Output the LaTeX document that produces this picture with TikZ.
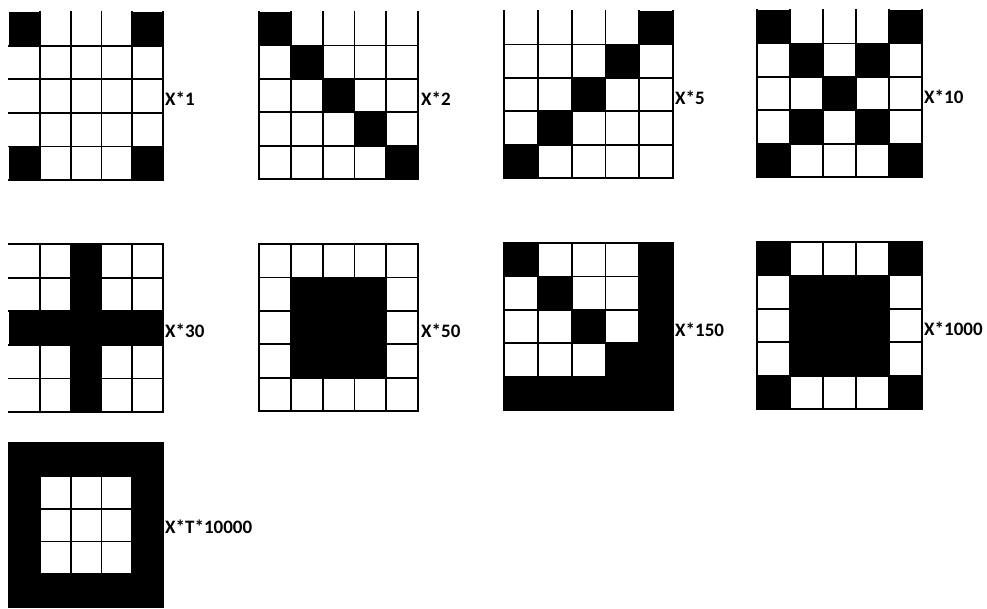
\documentclass[tikz,border=0pt]{standalone}
\usepackage{fontspec}
\setmainfont{Carlito}
\begin{document}
\begin{tikzpicture}[x=1pt,y=-1pt,
  gridline/.style={line width=1.8pt,line cap=rect},
  lbl/.style={anchor=west,inner sep=0pt,font=\bfseries\fontsize{19}{20}\selectfont}]
\useasboundingbox (0,0) rectangle (987,608);
\newcommand{\drawgrid}[5]{%
  \pgfmathsetmacro\cw{(#3-#1)/5}%
  \pgfmathsetmacro\ch{(#4-#2)/5}%
  \foreach \r/\c in {#5} {\fill (#1+\c*\cw,#2+\r*\ch) rectangle ++(\cw,\ch);}%
  \foreach \i in {1,...,4} {%
    \draw[gridline] (#1+\i*\cw,#2) -- (#1+\i*\cw,#4);
    \draw[gridline] (#1,#2+\i*\ch) -- (#3,#2+\i*\ch);}%
  \draw[gridline] (#3,#2) -- (#3,#4) -- (#1,#4);
}
% row 1
\drawgrid{9}{12}{163}{180}{0/0,0/4,4/0,4/4}
\drawgrid{259}{12}{418}{179}{0/0,1/1,2/2,3/3,4/4}
\draw[gridline] (259,12) -- (259,179);
\drawgrid{504}{11}{673}{178}{0/4,1/3,2/2,3/1,4/0}
\draw[gridline] (504,11) -- (504,178);
\drawgrid{757}{10}{922}{177}{0/0,1/1,2/2,3/3,4/4,0/4,1/3,3/1,4/0}
\draw[gridline] (757,10) -- (757,177);
% row 2
\drawgrid{9}{244}{163}{412}{0/2,1/2,2/2,3/2,4/2,2/0,2/1,2/3,2/4}
\draw[gridline] (9,244) -- (163,244);
\drawgrid{259}{244}{418}{411}{1/1,1/2,1/3,2/1,2/2,2/3,3/1,3/2,3/3}
\draw[gridline] (259,411) -- (259,244) -- (418,244);
\drawgrid{504}{243}{673}{410}{0/0,1/1,2/2,3/3,0/4,1/4,2/4,3/4,4/0,4/1,4/2,4/3,4/4}
\draw[gridline] (504,410) -- (504,243) -- (673,243);
\drawgrid{757}{242}{922}{409}{0/0,0/4,4/0,4/4,1/1,1/2,1/3,2/1,2/2,2/3,3/1,3/2,3/3}
\draw[gridline] (757,409) -- (757,242) -- (922,242);
% row 3
\drawgrid{9}{443}{163}{607}{0/0,0/1,0/2,0/3,0/4,1/0,2/0,3/0,4/0,1/4,2/4,3/4,4/4,4/1,4/2,4/3}
\draw[gridline] (9,607) -- (9,443) -- (163,443);
% labels
\node[lbl] (l1) at (165,99) {X*1};
\node[lbl] (l2) at (421,98.5) {X*2};
\node[lbl] (l5) at (675,97.5) {X*5};
\node[lbl] (l10) at (924,96.5) {X*10};
\node[lbl] (l30) at (165,331) {X*30};
\node[lbl] (l50) at (421,330.5) {X*50};
\node[lbl] (l150) at (675,329.5) {X*150};
\node[lbl] (l1000) at (924,328.5) {X*1000};
\node[lbl] (lT) at (165,527) {X*T*10000};
\end{tikzpicture}
\end{document}
